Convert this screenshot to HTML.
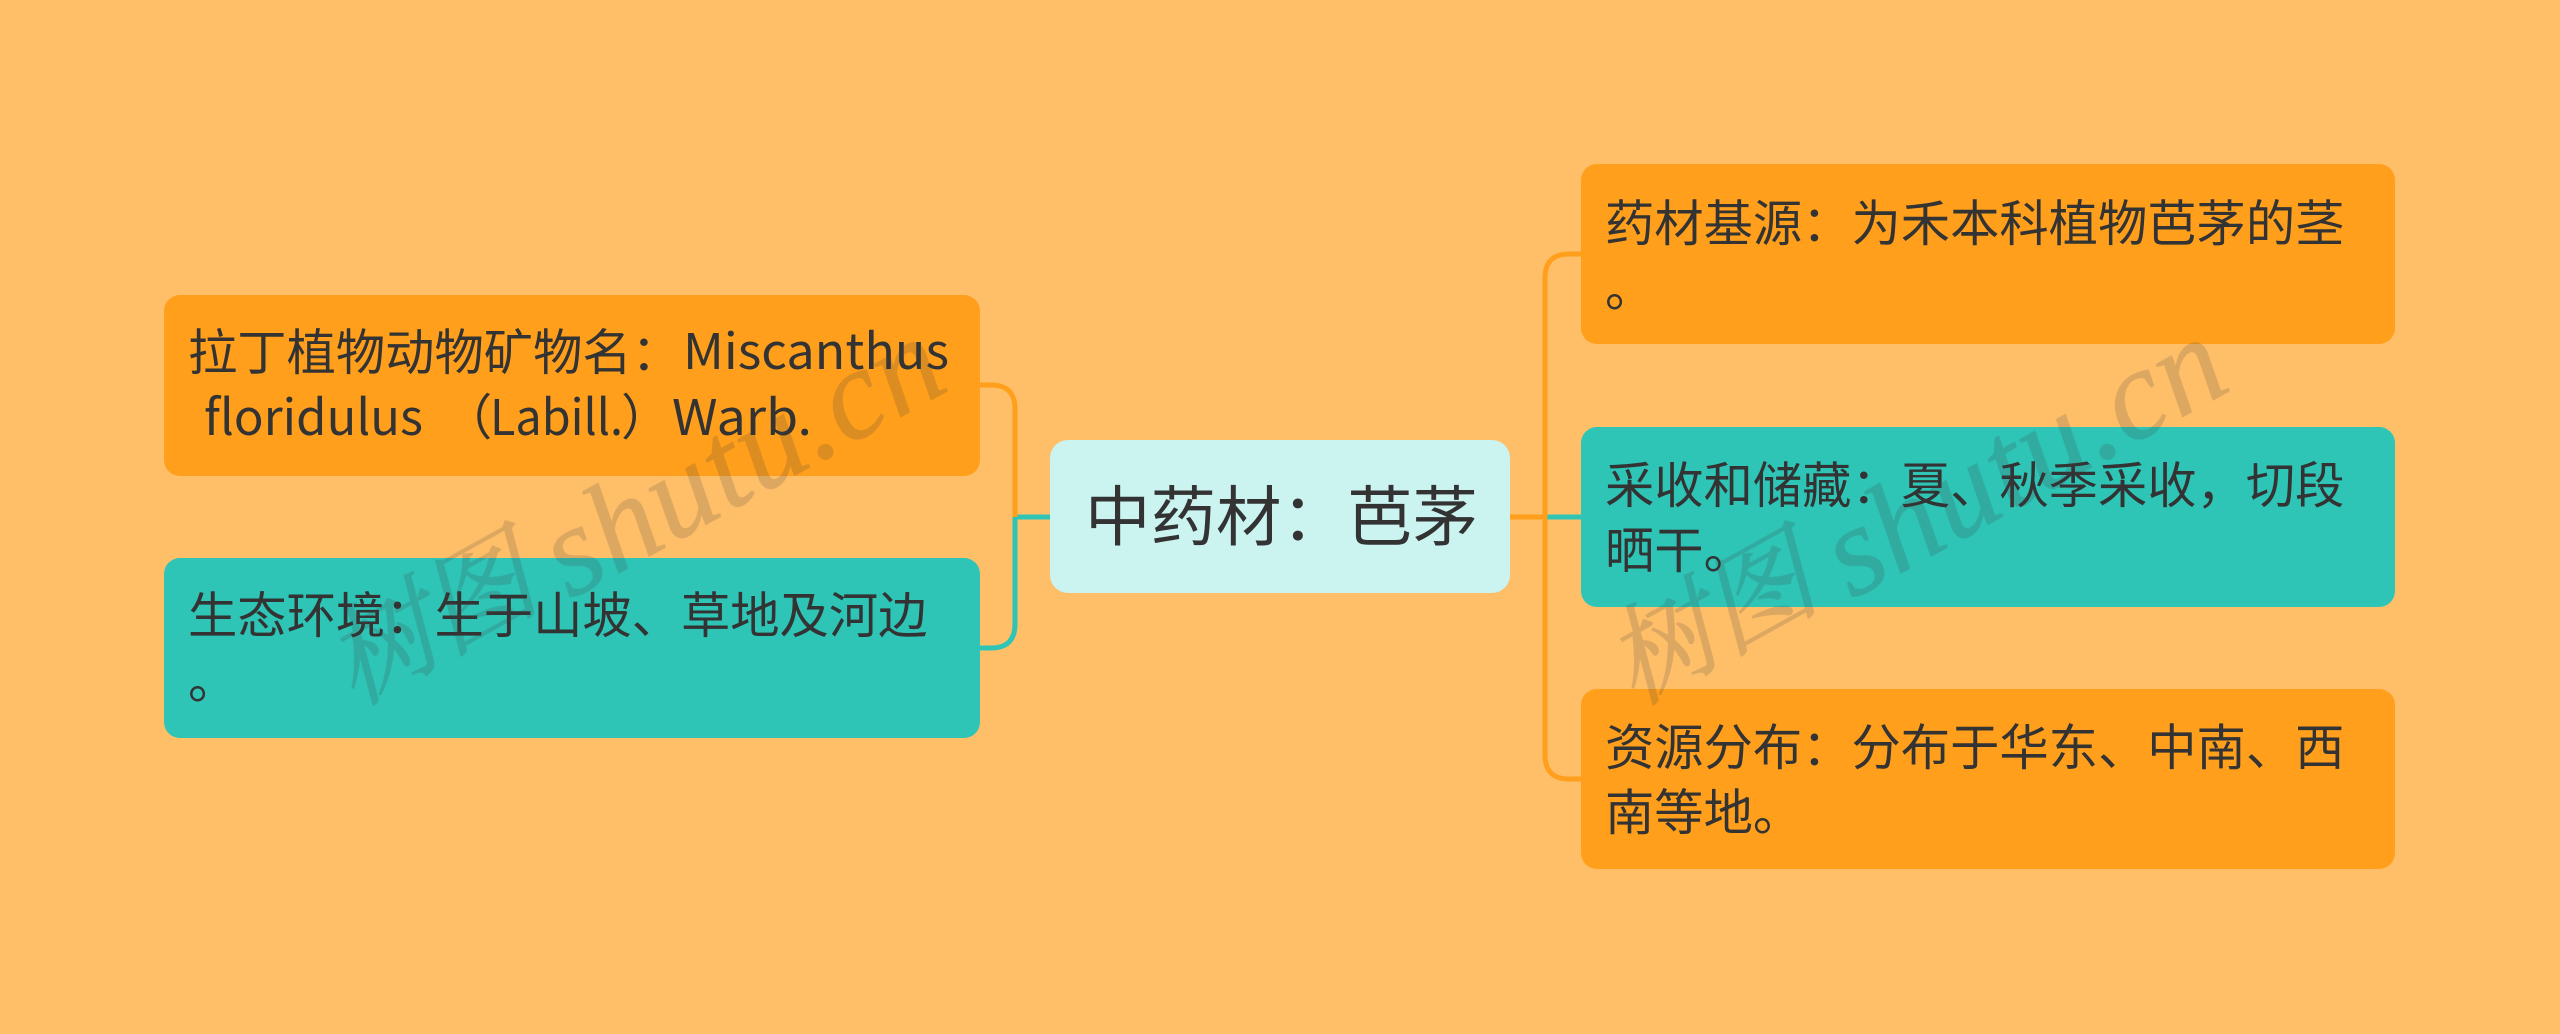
<!DOCTYPE html>
<html>
<head>
<meta charset="utf-8">
<style>
html,body{margin:0;padding:0;background:#FFBF69;width:2560px;height:1034px;overflow:hidden}
svg{display:block}
text{font-family:"Noto Sans CJK SC","Liberation Sans",sans-serif;fill:#333;font-size:49.3px}
.w{opacity:.19}
.wc{font-family:"Noto Serif CJK SC","Liberation Serif",serif;font-style:italic;font-size:108px;fill:#404040;stroke:#404040;stroke-width:1px}
.wl{font-family:"Liberation Serif",serif;font-style:italic;font-size:128px;letter-spacing:1px;fill:#404040;stroke:#404040;stroke-width:.8px}
</style>
</head>
<body>
<svg width="2560" height="1034" viewBox="0 0 2560 1034" xmlns="http://www.w3.org/2000/svg">
<rect width="2560" height="1034" fill="#FFBF69"/>
<g fill="none" stroke-width="5">
<path d="M1050 517H1015" stroke="#2EC4B6"/>
<path d="M1015 517V409Q1015 385 991 385H979" stroke="#FF9F1C"/>
<path d="M1015 517V624Q1015 648 991 648H979" stroke="#2EC4B6"/>
<path d="M1510 517H1545" stroke="#FF9F1C"/>
<path d="M1545 517H1581" stroke="#2EC4B6"/>
<path d="M1581 254H1569Q1545 254 1545 278V755Q1545 779 1569 779H1581" stroke="#FF9F1C"/>
</g>
<rect x="1050" y="440" width="460" height="153" rx="18" fill="#CBF3F0"/>
<rect x="164" y="295" width="816" height="181" rx="16" fill="#FF9F1C"/>
<rect x="164" y="558" width="816" height="180" rx="16" fill="#2EC4B6"/>
<rect x="1581" y="164" width="814" height="180" rx="16" fill="#FF9F1C"/>
<rect x="1581" y="427" width="814" height="180" rx="16" fill="#2EC4B6"/>
<rect x="1581" y="689" width="814" height="180" rx="16" fill="#FF9F1C"/>
<text x="1085" y="540" style="font-size:65.5px">中药材：芭茅</text>
<text x="188" y="370">拉丁植物动物矿物名：</text>
<text x="683" y="369" textLength="266" lengthAdjust="spacingAndGlyphs">Miscanthus</text>
<text x="204" y="435" textLength="219" lengthAdjust="spacingAndGlyphs">floridulus</text>
<text x="443" y="435">（</text>
<text x="490" y="435" textLength="133" lengthAdjust="spacingAndGlyphs">Labill.</text>
<text x="621" y="435">）</text>
<text x="672" y="435" textLength="140" lengthAdjust="spacingAndGlyphs">Warb.</text>
<text x="188" y="633">生态环境：生于山坡、草地及河边</text>
<text x="188" y="698">。</text>
<text x="1605" y="241">药材基源：为禾本科植物芭茅的茎</text>
<text x="1605" y="306">。</text>
<text x="1605" y="503">采收和储藏：夏、秋季采收，切段</text>
<text x="1605" y="568">晒干。</text>
<text x="1605" y="765">资源分布：分布于华东、中南、西</text>
<text x="1605" y="830">南等地。</text>
<g class="w">
<text class="wc" transform="translate(354 706) rotate(-29)">树图</text>
<text class="wl" transform="translate(570 600) rotate(-29)">shutu.cn</text>
<text class="wc" transform="translate(1634 706) rotate(-29)">树图</text>
<text class="wl" transform="translate(1852 600) rotate(-29)">shutu.cn</text>
</g>
</svg>
</body>
</html>
